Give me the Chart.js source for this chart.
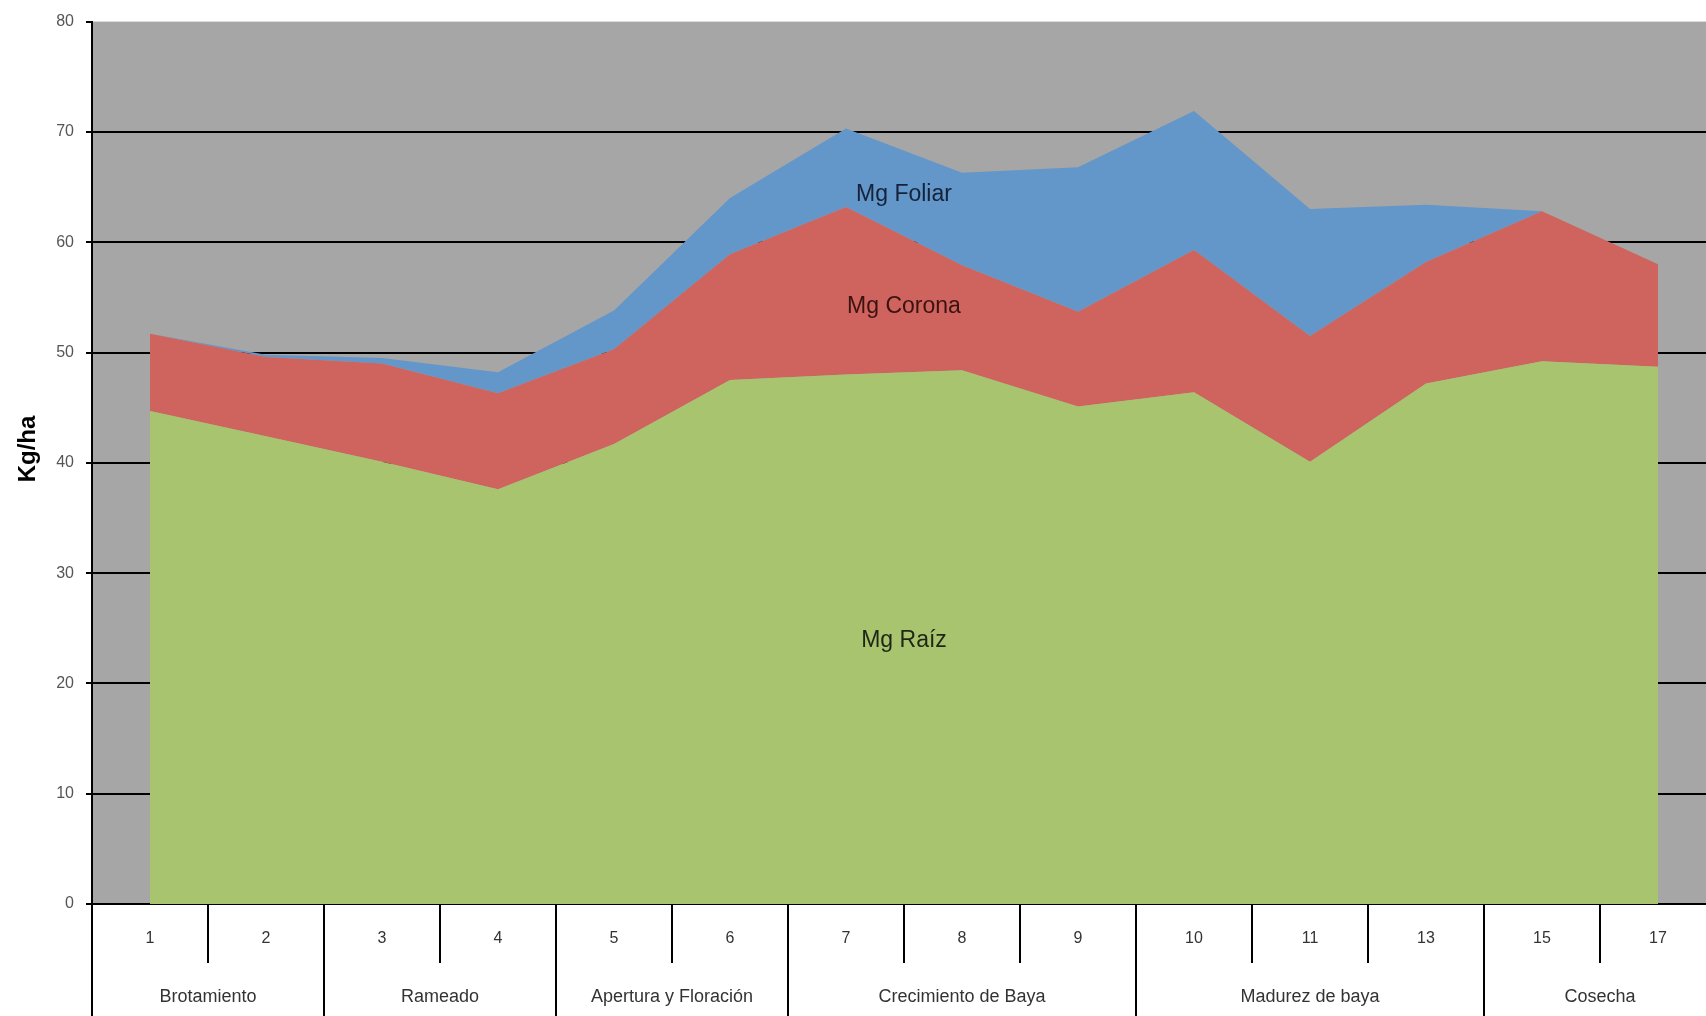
<!DOCTYPE html>
<html>
<head>
<meta charset="utf-8">
<script src="https://cdn.jsdelivr.net/npm/chart.js@4/dist/chart.umd.min.js"></script>
<style>
  html, body { margin: 0; padding: 0; background: #ffffff; overflow: hidden; }
  #wrap { position: absolute; left: 0; top: 0; }
</style>
</head>
<body>
<div id="wrap"><canvas id="c" width="1716" height="1016"></canvas></div>
<script>
// ---- data ----
const categories = ['1', '2', '3', '4', '5', '6', '7', '8', '9', '10', '11', '13', '15', '17'];
const stages = ['Brotamiento', 'Rameado', 'Apertura y Floración', 'Crecimiento de Baya', 'Madurez de baya', 'Cosecha'];
const stageSizes = [2, 2, 2, 3, 3, 2];
const seriesNames = ['Mg Raíz', 'Mg Corona', 'Mg Foliar'];
const mgRaiz   = [44.7, 42.4, 40.1, 37.6, 41.7, 47.5, 48.0, 48.4, 45.1, 46.4, 40.1, 47.2, 49.2, 48.7];
const mgCorona = [7.0, 7.2, 8.9, 8.7, 8.6, 11.4, 15.2, 9.5, 8.6, 12.9, 11.4, 11.0, 13.6, 9.3];
const mgFoliar = [0.0, 0.2, 0.5, 1.9, 3.5, 5.1, 7.1, 8.4, 13.1, 12.6, 11.5, 5.2, 0.0, 0.0];
const yTickValues = [0, 10, 20, 30, 40, 50, 60, 70, 80];
const yAxisTitle = 'Kg/ha';

// ---- styling ----
const colors = ['#a9c46f', '#cf635d', '#6396c9'];
const labelColors = ['#1e2616', '#3b1312', '#14233a'];
const labelPos = [[6.5, 23.9], [6.5, 54.2], [6.5, 64.3]];
const FONT = '"Liberation Sans", Arial, sans-serif';

const plotBg = {
  id: 'plotBg',
  beforeDraw(chart) {
    const { ctx, chartArea: a } = chart;
    ctx.save();
    ctx.fillStyle = '#ffffff';
    ctx.fillRect(0, 0, chart.width, chart.height);
    ctx.fillStyle = '#a6a6a6';
    ctx.fillRect(a.left, a.top, a.right - a.left, a.bottom - a.top);
    ctx.restore();
  }
};

const extras = {
  id: 'extras',
  afterDraw(chart) {
    const { ctx, chartArea: a, scales } = chart;
    const xs = scales.x, ys = scales.y;
    ctx.save();
    ctx.strokeStyle = '#000000';
    ctx.lineWidth = 2;
    const groupStarts = new Set();
    let acc = 0;
    stageSizes.forEach(n => { groupStarts.add(acc); acc += n; });
    groupStarts.add(acc);
    for (let i = 0; i <= categories.length; i++) {
      const x = Math.round(xs.getPixelForValue(i - 0.5));
      ctx.beginPath();
      ctx.moveTo(x, a.bottom);
      ctx.lineTo(x, groupStarts.has(i) ? chart.height : a.bottom + 59);
      ctx.stroke();
    }
    ctx.fillStyle = '#333333';
    ctx.font = '18px ' + FONT;
    ctx.textAlign = 'center';
    ctx.textBaseline = 'middle';
    acc = 0;
    stages.forEach((s, k) => {
      const x0 = xs.getPixelForValue(acc - 0.5);
      const x1 = xs.getPixelForValue(acc + stageSizes[k] - 0.5);
      ctx.fillText(s, (x0 + x1) / 2, 997);
      acc += stageSizes[k];
    });
    ctx.font = '23px ' + FONT;
    seriesNames.forEach((n, i) => {
      ctx.fillStyle = labelColors[i];
      ctx.fillText(n, xs.getPixelForValue(labelPos[i][0]), ys.getPixelForValue(labelPos[i][1]));
    });
    ctx.translate(28, 449);
    ctx.rotate(-Math.PI / 2);
    ctx.fillStyle = '#000000';
    ctx.font = 'bold 24px ' + FONT;
    ctx.fillText(yAxisTitle, 0, 0);
    ctx.restore();
  }
};

const series = [mgRaiz, mgCorona, mgFoliar];
new Chart(document.getElementById('c'), {
  type: 'line',
  data: {
    labels: categories,
    datasets: series.map((d, i) => ({
      label: seriesNames[i],
      data: d,
      backgroundColor: colors[i],
      borderColor: colors[i],
      borderWidth: 0,
      pointRadius: 0,
      tension: 0,
      fill: i === 0 ? 'origin' : '-1'
    }))
  },
  options: {
    responsive: false,
    animation: false,
    devicePixelRatio: 1,
    layout: { padding: { top: 19, right: 0, bottom: 0, left: 0 } },
    plugins: { legend: { display: false }, tooltip: { enabled: false }, title: { display: false } },
    scales: {
      x: {
        offset: true,
        grid: { display: false, drawTicks: false },
        border: { display: true, color: '#000000', width: 2 },
        ticks: { color: '#333333', font: { size: 16, family: FONT }, padding: 25, maxRotation: 0, autoSkip: false },
        afterFit(s) { s.height = 112; }
      },
      y: {
        stacked: true,
        min: 0, max: 80,
        afterBuildTicks(s) { s.ticks = yTickValues.map(v => ({ value: v })); },
        grid: {
          color: c => (c.tick && c.tick.value === 80) ? 'rgba(0,0,0,0)' : '#000000',
          tickColor: '#000000',
          lineWidth: 2,
          tickLength: 6
        },
        border: { display: true, color: '#000000', width: 2 },
        ticks: { color: '#555555', font: { size: 16, family: FONT }, padding: 12 },
        afterFit(s) { s.width = 92; }
      }
    }
  },
  plugins: [plotBg, extras]
});
</script>
</body>
</html>
